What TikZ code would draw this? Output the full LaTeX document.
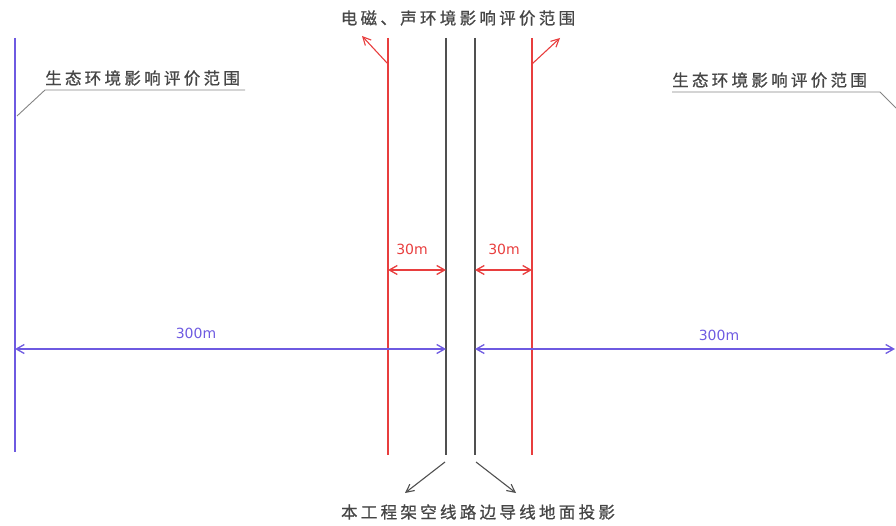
\documentclass[tikz,border=0pt]{standalone}
\usepackage{fontspec}
\setmainfont{Noto Sans CJK SC}
\newfontfamily\numfont{DejaVu Sans}
\usetikzlibrary{arrows.meta}
\definecolor{purp}{RGB}{110,90,225}
\definecolor{redl}{RGB}{232,62,62}
\definecolor{grayl}{RGB}{80,80,80}
\definecolor{txt}{RGB}{70,70,70}
\tikzset{
  purpline/.style={draw=purp,line width=2pt},
  redline/.style={draw=redl,line width=2pt},
  grayline/.style={draw=grayl,line width=1.8pt},
  leader/.style={draw=grayl!70,line width=0.9pt},
  cjk/.style={font=\fontsize{16.5pt}{18pt}\selectfont\addfontfeatures{LetterSpace=20,FakeBold=0.8},text=txt,inner sep=0pt},
  numlab/.style={font=\numfont\fontsize{14pt}{16pt}\selectfont,inner sep=0pt},
  dimarrow/.style={line width=1.3pt,{Straight Barb[length=8pt,width=9pt]}-{Straight Barb[length=8pt,width=9pt]}},
  onearrow/.style={line width=1.1pt,-{Straight Barb[length=8pt,width=8pt]}}
}
\begin{document}
\begin{tikzpicture}[x=1pt,y=-1pt]
\useasboundingbox (0,0) rectangle (896,526);
% vertical lines
\coordinate (pLt) at (15,38); \coordinate (pLb) at (15,452);
\coordinate (rLt) at (388,38); \coordinate (rLb) at (388,455);
\coordinate (gLt) at (446,38); \coordinate (gLb) at (446,455);
\coordinate (gRt) at (475,38); \coordinate (gRb) at (475,455);
\coordinate (rRt) at (532,38); \coordinate (rRb) at (532,455);
\draw[purpline] (pLt) -- (pLb);
\draw[redline] (rLt) -- (rLb);
\draw[redline] (rRt) -- (rRb);
\draw[grayline] (gLt) -- (gLb);
\draw[grayline] (gRt) -- (gRb);
% top label
\node[cjk] (top) at (458,18) {电磁、声环境影响评价范围};
\coordinate (ra1) at (388,64); \coordinate (ra1e) at (362,36);
\coordinate (ra2) at (532,64); \coordinate (ra2e) at (560,38);
\draw[onearrow,draw=redl] (ra1) -- (ra1e);
\draw[onearrow,draw=redl] (ra2) -- (ra2e);
% left eco label
\node[cjk,anchor=south west] (ecoL) at (45,86) {生态环境影响评价范围};
\coordinate (uL1) at (45,90); \coordinate (uL2) at (245,90); \coordinate (uL0) at (17,116);
\draw[leader] (uL0) -- (uL1) -- (uL2);
% right eco label
\node[cjk,anchor=south west] (ecoR) at (672,88) {生态环境影响评价范围};
\coordinate (uR1) at (672,92); \coordinate (uR2) at (880,92); \coordinate (uR0) at (896,108);
\draw[leader] (uR1) -- (uR2) -- (uR0);
% 30m dims
\coordinate (d1a) at (388,270); \coordinate (d1b) at (446,270);
\coordinate (d2a) at (475,270); \coordinate (d2b) at (532,270);
\draw[dimarrow,draw=redl] (d1a) -- (d1b);
\draw[dimarrow,draw=redl] (d2a) -- (d2b);
\node[numlab,text=redl] (t30a) at (412,249) {30m};
\node[numlab,text=redl] (t30b) at (504,249) {30m};
% 300m dims
\coordinate (e1a) at (15,349); \coordinate (e1b) at (446,349);
\coordinate (e2a) at (475,349); \coordinate (e2b) at (895,349);
\draw[dimarrow,draw=purp] (e1a) -- (e1b);
\draw[dimarrow,draw=purp] (e2a) -- (e2b);
\node[numlab,text=purp] (t300a) at (196,333) {300m};
\node[numlab,text=purp] (t300b) at (719,335) {300m};
% bottom
\coordinate (b1) at (445,462); \coordinate (b1e) at (405,493);
\coordinate (b2) at (476,462); \coordinate (b2e) at (516,493);
\draw[onearrow,draw=grayl] (b1) -- (b1e);
\draw[onearrow,draw=grayl] (b2) -- (b2e);
\node[cjk] (bot) at (478,512) {本工程架空线路边导线地面投影};
\end{tikzpicture}
\end{document}
